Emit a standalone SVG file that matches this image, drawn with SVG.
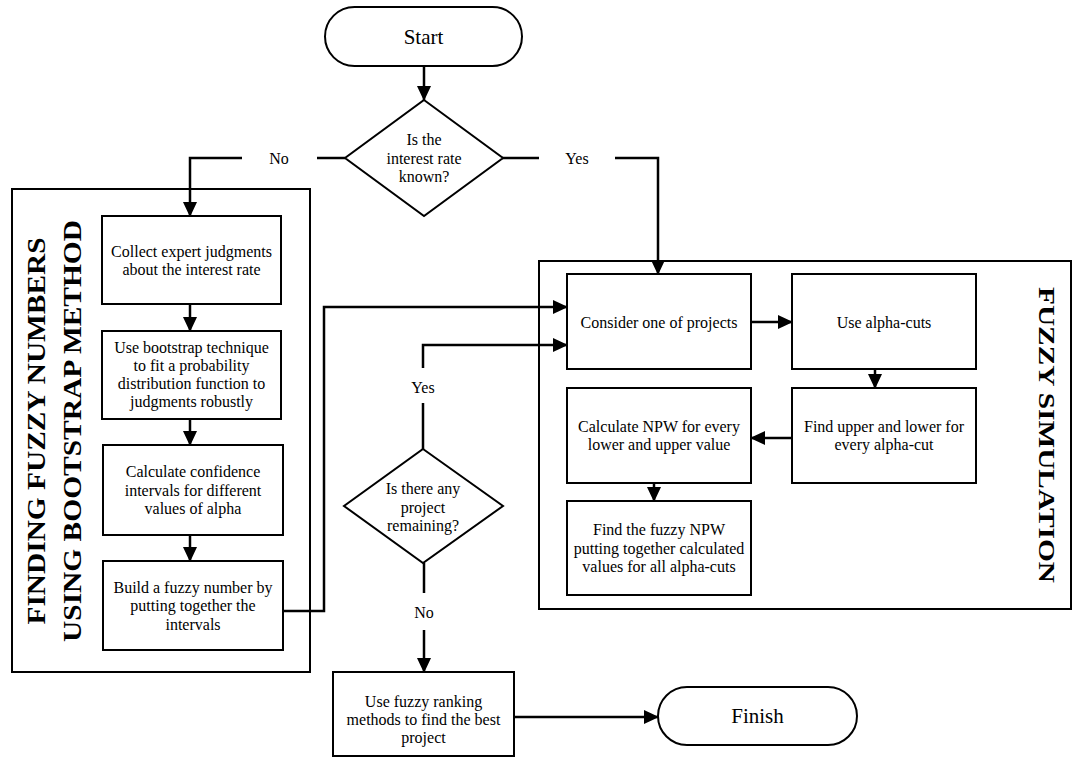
<svg xmlns="http://www.w3.org/2000/svg" width="1074" height="760" viewBox="0 0 1074 760">
<style>
.box{fill:#fff;stroke:#000;stroke-width:2}
.frame{fill:none;stroke:#000;stroke-width:2}
.t{font-family:"Liberation Serif","Times New Roman",serif;font-size:16px;fill:#000;text-anchor:middle}
.term{font-family:"Liberation Serif","Times New Roman",serif;font-size:21px;fill:#000;text-anchor:middle}
.title{font-family:"Liberation Serif","Times New Roman",serif;font-weight:bold;fill:#000;text-anchor:middle}
.c{fill:none;stroke:#000;stroke-width:2.5}
.ca{fill:none;stroke:#000;stroke-width:2.5;marker-end:url(#ah)}
</style>
<defs>
<marker id="ah" markerUnits="userSpaceOnUse" markerWidth="15" markerHeight="14" refX="14" refY="7" orient="auto">
<path d="M0,0 L15,7 L0,14 z" fill="#000"/>
</marker>
</defs>
<rect width="1074" height="760" fill="#fff"/>

<g id="frame-bootstrap">
<rect class="frame" x="12" y="189" width="298" height="483"/>
<text class="title" font-size="26" transform="translate(45,431) rotate(-90)" textLength="387" lengthAdjust="spacingAndGlyphs">FINDING FUZZY NUMBERS</text>
<text class="title" font-size="26" transform="translate(81,431) rotate(-90)" textLength="422" lengthAdjust="spacingAndGlyphs">USING BOOTSTRAP METHOD</text>
</g>
<g id="frame-simulation">
<rect class="frame" x="539" y="261" width="532" height="348"/>
<text class="title" font-size="23" transform="translate(1039,435) rotate(90)" textLength="296" lengthAdjust="spacingAndGlyphs">FUZZY SIMULATION</text>
</g>

<g id="connectors">
<path class="ca" d="M424,66 V100"/>
<path class="c" d="M345,158 H317"/>
<path class="ca" d="M242,158 H190 V216"/>
<text class="t" x="279" y="163.5">No</text>
<path class="c" d="M502,158 H539"/>
<path class="ca" d="M615,158 H658 V274"/>
<text class="t" x="577" y="163.5">Yes</text>
<path class="ca" d="M190,304 V331"/>
<path class="ca" d="M190,419 V445"/>
<path class="ca" d="M190,535 V561"/>
<path class="ca" d="M281,611 H324 V307 H567"/>
<path class="c" d="M423,449 V403"/>
<path class="ca" d="M423,368 V345 H567"/>
<text class="t" x="423" y="393">Yes</text>
<path class="ca" d="M749,322 H792"/>
<path class="ca" d="M875,369 V388"/>
<path class="ca" d="M792,438 H751"/>
<path class="ca" d="M654,481 V501"/>
<path class="c" d="M424,563 V593"/>
<path class="ca" d="M424,630 V672"/>
<text class="t" x="424" y="618">No</text>
<path class="ca" d="M514,717 H658"/>
</g>

<g id="start">
<rect class="box" x="325" y="7" width="197" height="59" rx="29.5" ry="29.5"/>
<text class="term" x="423.5" y="44">Start</text>
</g>
<g id="decision-rate">
<polygon class="box" points="424,100 503,158 424,216 345,158"/>
<text class="t" x="424" y="145">Is the</text>
<text class="t" x="424" y="163.5">interest rate</text>
<text class="t" x="424" y="182">known?</text>
</g>
<g id="collect">
<rect class="box" x="102" y="216" width="179" height="88"/>
<text class="t" x="191.5" y="256.5">Collect expert judgments</text>
<text class="t" x="191.5" y="275">about the interest rate</text>
</g>
<g id="bootstrap">
<rect class="box" x="102" y="331" width="179" height="88"/>
<text class="t" x="191.5" y="353">Use bootstrap technique</text>
<text class="t" x="191.5" y="371">to fit a probability</text>
<text class="t" x="191.5" y="389">distribution function to</text>
<text class="t" x="191.5" y="407">judgments robustly</text>
</g>
<g id="confidence">
<rect class="box" x="103" y="445" width="180" height="90"/>
<text class="t" x="193" y="477">Calculate confidence</text>
<text class="t" x="193" y="495.5">intervals for different</text>
<text class="t" x="193" y="514">values of alpha</text>
</g>
<g id="build">
<rect class="box" x="103" y="561" width="180" height="89"/>
<text class="t" x="193" y="592.5">Build a fuzzy number by</text>
<text class="t" x="193" y="611">putting together the</text>
<text class="t" x="193" y="629.5">intervals</text>
</g>
<g id="consider">
<rect class="box" x="567" y="274" width="184" height="95"/>
<text class="t" x="659" y="327.5">Consider one of projects</text>
</g>
<g id="alpha-cuts">
<rect class="box" x="792" y="274" width="184" height="95"/>
<text class="t" x="884" y="327.5">Use alpha-cuts</text>
</g>
<g id="find-bounds">
<rect class="box" x="792" y="388" width="184" height="95"/>
<text class="t" x="884" y="431.5">Find upper and lower for</text>
<text class="t" x="884" y="450">every alpha-cut</text>
</g>
<g id="calc-npw">
<rect class="box" x="567" y="388" width="184" height="95"/>
<text class="t" x="659" y="431.5">Calculate NPW for every</text>
<text class="t" x="659" y="450">lower and upper value</text>
</g>
<g id="fuzzy-npw">
<rect class="box" x="567" y="501" width="184" height="94"/>
<text class="t" x="659" y="535">Find the fuzzy NPW</text>
<text class="t" x="659" y="553.5">putting together calculated</text>
<text class="t" x="659" y="572">values for all alpha-cuts</text>
</g>
<g id="decision-remaining">
<polygon class="box" points="423,449 503,506 423,563 344,506"/>
<text class="t" x="423" y="494">Is there any</text>
<text class="t" x="423" y="512.5">project</text>
<text class="t" x="423" y="531">remaining?</text>
</g>
<g id="ranking">
<rect class="box" x="333" y="672" width="181" height="84"/>
<text class="t" x="423.5" y="707">Use fuzzy ranking</text>
<text class="t" x="423.5" y="725">methods to find the best</text>
<text class="t" x="423.5" y="743">project</text>
</g>
<g id="finish">
<rect class="box" x="658" y="687" width="199" height="58" rx="29" ry="29"/>
<text class="term" x="757.5" y="723">Finish</text>
</g>
</svg>
